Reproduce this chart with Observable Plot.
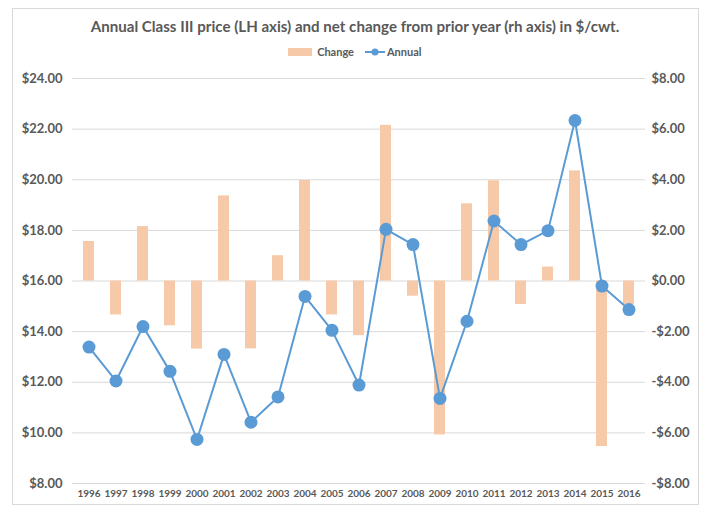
<!DOCTYPE html>
<html>
<head>
<meta charset="utf-8">
<script src="https://cdn.jsdelivr.net/npm/d3@7"></script>
<script src="https://cdn.jsdelivr.net/npm/@observablehq/plot@0.6"></script>
<style>
  html, body { margin: 0; padding: 0; background: #fff; }
  #wrap { position: relative; width: 710px; height: 508px; font-family: Lato, "Open Sans", sans-serif; color: #595959; }
  #frame { position: absolute; left: 12px; top: 8px; width: 687px; height: 497px; border: 1px solid #d9d9d9; box-sizing: border-box; }
  #title { position: absolute; left: 0; width: 710px; top: 17px; text-align: center; font-size: 15.1px; font-weight: bold; color: #595959; }
  #legend { position: absolute; left: 0; width: 710px; top: 45px; text-align: center; font-size: 11px; font-weight: bold; color: #595959; }
  #legend span { display: inline-flex; align-items: center; margin: 0 4px; }
  #chart { position: absolute; left: 0; top: 0; }
</style>
</head>
<body>
<div id="wrap">
  <div id="frame"></div>
  <div id="chart"></div>
  <div id="title">Annual Class III price (LH axis) and net change from prior year (rh axis) in $/cwt.</div>
  <div id="legend">
    <span><svg width="26" height="10"><rect x="0" y="1" width="24" height="8" fill="#F6C9A8"/></svg>&nbsp;Change</span>
    <span><svg width="20" height="10"><line x1="0" x2="20" y1="5" y2="5" stroke="#5B9BD5" stroke-width="2"/><circle cx="10" cy="5" r="3.5" fill="#5B9BD5"/></svg>&nbsp;Annual</span>
  </div>
</div>
<script>
const years = ["1996","1997","1998","1999","2000","2001","2002","2003","2004","2005","2006","2007","2008","2009","2010","2011","2012","2013","2014","2015","2016"];
const annual = [13.39,12.05,14.20,12.43,9.74,13.10,10.42,11.42,15.39,14.05,11.89,18.04,17.44,11.36,14.41,18.37,17.44,17.99,22.34,15.80,14.87];
const change = [1.56,-1.34,2.15,-1.77,-2.69,3.36,-2.68,1.00,3.97,-1.34,-2.16,6.15,-0.60,-6.08,3.05,3.96,-0.93,0.55,4.35,-6.54,-0.93];
const leftTicks = [8,10,12,14,16,18,20,22,24];
const rightTicks = [-8,-6,-4,-2,0,2,4,6,8];
const offset = 16; // right-axis zero aligns with $16 on left axis

const data = years.map((y, i) => ({year: y, annual: annual[i], change: change[i]}));
const fmt = v => (v < 0 ? "-$" : "$") + Math.abs(v).toFixed(2);

const chart = Plot.plot({
  width: 710,
  height: 508,
  marginTop: 78,
  marginBottom: 25,
  marginLeft: 72,
  marginRight: 65,
  style: {fontFamily: "Lato, 'Open Sans', sans-serif", color: "#595959", background: "transparent"},
  x: {domain: years, paddingInner: 0.6, paddingOuter: 0.3, label: null},
  y: {domain: [8, 24], label: null},
  marks: [
    Plot.gridY(leftTicks, {stroke: "#d9d9d9", strokeOpacity: 1, strokeWidth: 1}),
    Plot.barY(data, {x: "year", y1: offset, y2: d => d.change + offset, fill: "#F6C9A8"}),
    Plot.lineY(data, {x: "year", y: "annual", stroke: "#5B9BD5", strokeWidth: 2}),
    Plot.dot(data, {x: "year", y: "annual", r: 6.5, fill: "#5B9BD5"}),
    Plot.axisY({anchor: "left", ticks: leftTicks, tickSize: 0, tickPadding: 10, tickFormat: fmt, fontSize: 13, fontWeight: "bold", label: null}),
    Plot.axisY({anchor: "right", ticks: rightTicks.map(v => v + offset), tickSize: 0, tickPadding: 6, tickFormat: v => fmt(v - offset), fontSize: 13, fontWeight: "bold", label: null}),
    Plot.axisX({tickSize: 0, tickPadding: 6, fontSize: 10, fontWeight: "bold", label: null})
  ]
});
document.getElementById("chart").appendChild(chart);
</script>
</body>
</html>
